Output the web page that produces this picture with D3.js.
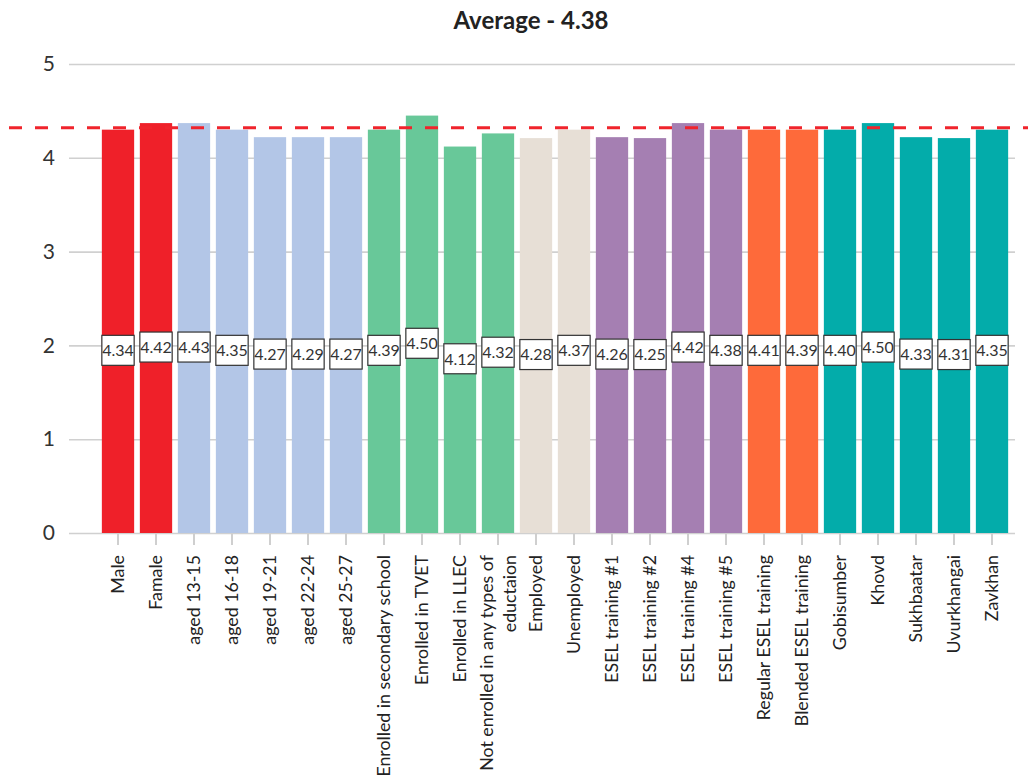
<!DOCTYPE html>
<html>
<head>
<meta charset="utf-8">
<script src="https://cdn.jsdelivr.net/npm/d3@7"></script>
<style>
  html, body { margin: 0; padding: 0; background: #fff; }
  svg { display: block; font-family: Lato, "Noto Sans", sans-serif; }
</style>
</head>
<body>
<svg id="chart" width="1028" height="783"></svg>
<script>
// ---- data ----
const titleText = "Average - 4.38";
const categories = [
  "Male", "Famale",
  "aged 13-15", "aged 16-18", "aged 19-21", "aged 22-24", "aged 25-27",
  "Enrolled in secondary school", "Enrolled in TVET", "Enrolled in LLEC",
  "Not enrolled in any types of\neductaion",
  "Employed", "Unemployed",
  "ESEL training #1", "ESEL training #2", "ESEL training #4", "ESEL training #5",
  "Regular ESEL training", "Blended ESEL training",
  "Gobisumber", "Khovd", "Sukhbaatar", "Uvurkhangai", "Zavkhan"
];
// bar heights as drawn in the picture
const barValues = [
  4.30, 4.37,
  4.37, 4.30, 4.22, 4.22, 4.22,
  4.30, 4.45, 4.12, 4.26,
  4.21, 4.30,
  4.22, 4.21, 4.37, 4.30,
  4.30, 4.30,
  4.30, 4.37, 4.22, 4.21, 4.30
];
// values printed in the label boxes
const labelValues = [
  "4.34", "4.42",
  "4.43", "4.35", "4.27", "4.29", "4.27",
  "4.39", "4.50", "4.12", "4.32",
  "4.28", "4.37",
  "4.26", "4.25", "4.42", "4.38",
  "4.41", "4.39",
  "4.40", "4.50", "4.33", "4.31", "4.35"
];
const groups = [
  "gender", "gender",
  "age", "age", "age", "age", "age",
  "edu", "edu", "edu", "edu",
  "emp", "emp",
  "esel", "esel", "esel", "esel",
  "type", "type",
  "prov", "prov", "prov", "prov", "prov"
];
const groupNames = ["gender", "age", "edu", "emp", "esel", "type", "prov"];
const groupColors = ["#ef2029", "#b3c6e7", "#68c899", "#e7dfd6", "#a57fb2", "#fe6a3a", "#03acaa"];
const averageLine = 4.32;
const yTicks = [0, 1, 2, 3, 4, 5];

// ---- layout ----
const svg = d3.select("#chart");
const gridLeft = 69, gridRight = 1015;
const y = d3.scaleLinear().domain([0, 5]).range([533, 64]);
const x = d3.scaleBand().domain(categories).range([99, 1011]).paddingInner(0.15).paddingOuter(0.075);
const color = d3.scaleOrdinal().domain(groupNames).range(groupColors);

// title
svg.append("text")
  .attr("x", 531).attr("y", 29)
  .attr("text-anchor", "middle")
  .attr("font-size", 24).attr("font-weight", 700)
  .attr("fill", "#222")
  .text(titleText);

// y axis with gridlines
const yAxis = svg.append("g")
  .attr("transform", `translate(${gridLeft},0)`)
  .call(d3.axisLeft(y).tickValues(yTicks).tickFormat(d3.format("d"))
    .tickSize(-(gridRight - gridLeft)).tickPadding(14));
yAxis.select(".domain").remove();
yAxis.selectAll(".tick line").attr("stroke", "#d0d0d0").attr("stroke-width", 1.6);
yAxis.selectAll(".tick text").attr("font-size", 21).attr("fill", "#333")
  .attr("font-family", "Lato, sans-serif");

// x axis
const xAxis = svg.append("g")
  .attr("transform", `translate(0,${y(0)})`)
  .call(d3.axisBottom(x).tickSize(12).tickPadding(6));
xAxis.select(".domain").remove();
xAxis.selectAll(".tick line").attr("stroke", "#cfcfcf").attr("stroke-width", 2);
xAxis.selectAll(".tick text").remove();

// x labels (rotated)
const labG = svg.append("g");
categories.forEach((c) => {
  const lines = c.split("\n");
  const cx = x(c) + x.bandwidth() / 2;
  const t = labG.append("text")
    .attr("transform", `translate(${cx},555) rotate(-90)`)
    .attr("text-anchor", "end")
    .attr("font-size", 17.8).attr("fill", "#222");
  const lh = 23;
  lines.forEach((ln, i) => {
    const off = (i - (lines.length - 1) / 2) * lh;
    t.append("tspan").attr("x", 0).attr("y", off).attr("dy", "0.35em").text(ln);
  });
});

// bars
svg.append("g").selectAll("rect")
  .data(categories)
  .join("rect")
  .attr("x", d => x(d))
  .attr("width", x.bandwidth())
  .attr("y", (d, i) => y(barValues[i]))
  .attr("height", (d, i) => y(0) - y(barValues[i]))
  .attr("fill", (d, i) => color(groups[i]));

// average dashed line
svg.append("line")
  .attr("x1", 9).attr("x2", 1028)
  .attr("y1", y(averageLine)).attr("y2", y(averageLine))
  .attr("stroke", "#f0242c").attr("stroke-width", 3)
  .attr("stroke-dasharray", "13,13");

// label boxes
const boxH = 30;
const lab = svg.append("g").selectAll("g")
  .data(categories)
  .join("g")
  .attr("transform", (d, i) => {
    const mid = (y(barValues[i]) + y(0)) / 2;
    return `translate(${x(d)},${mid + 4})`;
  });
lab.append("rect")
  .attr("width", x.bandwidth()).attr("height", boxH)
  .attr("fill", "#fff").attr("stroke", "#333").attr("stroke-width", 1.2);
lab.append("text")
  .attr("x", x.bandwidth() / 2).attr("y", boxH / 2)
  .attr("dy", "0.36em")
  .attr("text-anchor", "middle")
  .attr("font-size", 16).attr("fill", "#333")
  .text((d, i) => labelValues[i]);
</script>
</body>
</html>
